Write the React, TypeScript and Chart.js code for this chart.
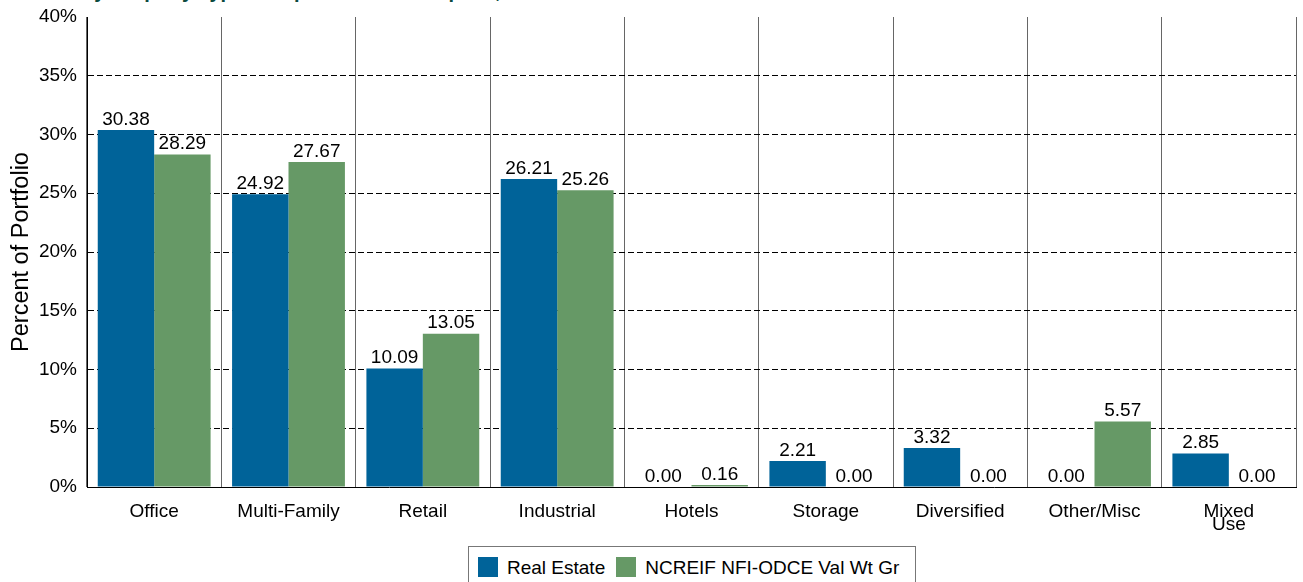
import React, { useEffect, useRef } from "react";
import { Chart, registerables } from "chart.js";

Chart.register(...registerables);

const categories: (string | string[])[] = [
  "Office",
  "Multi-Family",
  "Retail",
  "Industrial",
  "Hotels",
  "Storage",
  "Diversified",
  "Other/Misc",
  ["Mixed", "Use"],
];
const realEstate = [30.38, 24.92, 10.09, 26.21, 0.0, 2.21, 3.32, 0.0, 2.85];
const ncreif = [28.29, 27.67, 13.05, 25.26, 0.16, 0.0, 0.0, 5.57, 0.0];
const seriesNames = ["Real Estate", "NCREIF NFI-ODCE Val Wt Gr"];
const yMin = 0;
const yMax = 40;
const yStep = 5;

const BLUE = "#006399";
const GREEN = "#669966";
const FONT = "'Liberation Sans', Arial, sans-serif";

const valueLabels = {
  id: "valueLabels",
  afterDatasetsDraw(chart: any) {
    const ctx = chart.ctx;
    ctx.save();
    ctx.font = `19px ${FONT}`;
    ctx.fillStyle = "#000";
    ctx.textAlign = "center";
    ctx.textBaseline = "bottom";
    chart.data.datasets.forEach((ds: any, i: number) => {
      const meta = chart.getDatasetMeta(i);
      meta.data.forEach((el: any, j: number) => {
        const v = ds.data[j] as number;
        ctx.fillText(v.toFixed(2), el.x, el.y - 1);
      });
    });
    ctx.restore();
  },
};

export default function App() {
  const ref = useRef<HTMLCanvasElement>(null);
  useEffect(() => {
    if (!ref.current) return;
    const chart = new Chart(ref.current, {
      type: "bar",
      data: {
        labels: categories as any,
        datasets: [
          {
            label: seriesNames[0],
            data: realEstate,
            backgroundColor: BLUE,
            categoryPercentage: 0.84,
            barPercentage: 1,
          },
          {
            label: seriesNames[1],
            data: ncreif,
            backgroundColor: GREEN,
            categoryPercentage: 0.84,
            barPercentage: 1,
          },
        ],
      },
      options: {
        responsive: false,
        animation: false,
        layout: { padding: { top: 17, right: 7, left: 0, bottom: 0 } },
        plugins: {
          legend: { display: false },
          tooltip: { enabled: false },
          title: { display: false },
        },
        scales: {
          x: {
            offset: true,
            grid: {
              offset: true,
              color: "#666",
              lineWidth: 1,
              drawTicks: false,
            },
            border: { color: "#000", width: 1 },
            ticks: {
              color: "#000",
              font: { family: FONT, size: 19, lineHeight: 0.7 },
              padding: 18,
              maxRotation: 0,
              autoSkip: false,
            },
            afterFit: (s: any) => {
              s.height = 53;
              s.paddingLeft = 0;
              s.paddingRight = 0;
            },
          },
          y: {
            min: yMin,
            max: yMax,
            ticks: {
              stepSize: yStep,
              color: "#000",
              font: { family: FONT, size: 19 },
              padding: 10,
              callback: (v: any) => `${v}%`,
            },
            grid: {
              drawTicks: false,
              color: (c: any) =>
                c.tick && (c.tick.value === yMax || c.tick.value === yMin)
                  ? "rgba(0,0,0,0)"
                  : "#000",
              lineWidth: 1,
            },
            border: { color: "#000", width: 1, dash: [6, 3] },
            title: {
              display: true,
              text: "Percent of Portfolio",
              color: "#000",
              font: { family: FONT, size: 23.5 },
              padding: { top: 7, bottom: 2 },
            },
            afterFit: (s: any) => {
              s.width = 87;
              s.paddingTop = 0;
              s.paddingBottom = 0;
            },
          },
        },
      },
      plugins: [valueLabels],
    });
    return () => chart.destroy();
  }, []);

  return (
    <div
      style={{
        position: "absolute",
        left: 0,
        top: 0,
        width: 1303,
        height: 582,
        overflow: "hidden",
        background: "#fff",
        fontFamily: FONT,
      }}
    >
      <div
        style={{
          position: "absolute",
          left: 0,
          top: 0,
          width: 1303,
          height: 6,
          overflow: "hidden",
        }}
      >
        <div
          style={{
            position: "absolute",
            left: 82,
            top: -20,
            whiteSpace: "nowrap",
            fontSize: 20,
            fontWeight: "bold",
            color: "#0b4a3e",
            lineHeight: "22px",
          }}
        >
          by Property Type Comparison as of Sept 30, 2024
        </div>
      </div>
      <canvas
        ref={ref}
        width={1303}
        height={540}
        style={{ position: "absolute", left: 0, top: 0, width: 1303, height: 540 }}
      />
      <div
        style={{
          position: "absolute",
          left: 468,
          top: 546,
          width: 448,
          height: 40,
          border: "1px solid #777",
          boxSizing: "border-box",
          display: "flex",
          alignItems: "flex-start",
          paddingTop: 10,
          paddingLeft: 9,
          fontSize: 19,
          color: "#000",
          whiteSpace: "nowrap",
        }}
      >
        <span style={{ display: "inline-block", width: 20, height: 20, background: BLUE, marginRight: 9 }} />
        <span style={{ lineHeight: "21px", marginRight: 11 }}>{seriesNames[0]}</span>
        <span style={{ display: "inline-block", width: 20, height: 20, background: GREEN, marginRight: 9 }} />
        <span style={{ lineHeight: "21px" }}>{seriesNames[1]}</span>
      </div>
    </div>
  );
}
